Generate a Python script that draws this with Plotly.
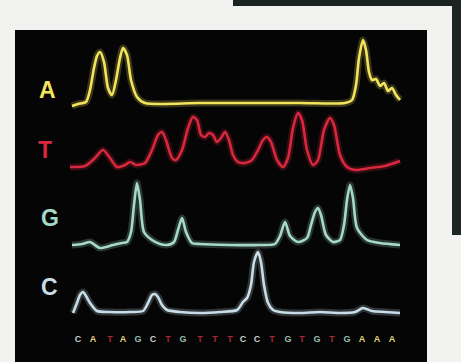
import plotly.graph_objects as go

# ---- data (scan position, signal height) ----
A_SCAN = [72, 78, 86, 90, 94, 97, 100, 104, 108, 112, 116, 120, 123, 127, 131, 137, 145, 200, 300, 345,
          352, 356, 359, 363, 366, 369, 372, 376, 380, 384, 388, 392, 396, 400]
A_SIGNAL = [-2, 0, 2, 14, 36, 48, 52, 42, 16, 9, 24, 46, 56, 49, 24, 7, 1, 1, 1, 1,
            4, 19, 46, 64, 54, 32, 24, 25, 18, 21, 13, 16, 9, 4]

T_SCAN = [70, 85, 95, 103, 110, 117, 125, 130, 136, 145, 152, 158, 162, 166, 172, 176, 182, 188, 193, 197,
          201, 205, 209, 213, 217, 221, 225, 229, 233, 238, 245, 252, 258, 263, 267, 271, 277, 283, 288, 293,
          298, 302, 307, 313, 318, 324, 330, 334, 340, 347, 355, 370, 385, 400]
T_SIGNAL = [-1, 0, 8, 16, 8, -1, 1, 4, 1, 3, 16, 31, 34, 26, 8, 6, 16, 38, 49, 46,
            31, 29, 33, 31, 24, 28, 34, 26, 11, 4, 3, 6, 16, 26, 29, 24, 6, -1, 8, 38,
            53, 46, 16, 1, 6, 36, 48, 41, 11, -1, -4, -2, 0, 5]

G_SCAN = [72, 82, 90, 100, 113, 122, 127, 131, 134, 137, 140, 144, 152, 160, 167, 174, 178, 182, 186, 192,
          200, 230, 260, 275, 280, 285, 290, 298, 307, 311, 315, 318, 321, 326, 333, 340, 344, 347, 350, 353,
          357, 367, 380, 400]
G_SIGNAL = [-1, 0, 2, -4, -1, 1, 2, 12, 39, 61, 44, 12, 4, 0, -1, 2, 14, 26, 12, 1,
            0, -1, -1, 0, 8, 22, 8, 2, 6, 19, 32, 36, 29, 9, 2, 4, 19, 44, 59, 46,
            16, 4, 1, -1]

C_SCAN = [73, 77, 80, 83, 86, 90, 97, 110, 130, 143, 148, 152, 155, 158, 162, 167, 180, 200, 220, 237,
          243, 247, 251, 254, 258, 261, 264, 268, 273, 280, 300, 320, 340, 355, 363, 372, 385, 400]
C_SIGNAL = [-1, 9, 17, 20, 16, 9, 1, 0, 0, 1, 9, 17, 18, 15, 7, 2, 0, -1, 0, 2,
            10, 14, 27, 50, 60, 50, 27, 9, 2, 0, -1, 0, -1, 0, 4, 1, 0, -1]

CHANNELS = ["A", "T", "G", "C"]

# base calls along the bottom
BASE_CALLS = list("CATAGCTGTTTCCTGTGTGAAA")
BASE_CALL_SCAN = [78, 93, 110, 123, 138, 153, 168, 183, 200, 215, 230, 243, 257, 272, 288, 302, 317, 332,
                  347, 362, 377, 392]

# ---- styling / layout ----
W, H = 461, 362
LANE_OFFSET = {"A": 258, "T": 196, "G": 118, "C": 50}
LANE_COLOR = {"A": "#f3e45c", "T": "#d9283e", "G": "#a6dac6", "C": "#c9dde8"}
LABEL_POS = {"A": (47, 272), "T": (45, 212), "G": (50, 144), "C": (49, 75)}
CALL_COLOR = {"A": "#e2d37c", "T": "#a8283a", "G": "#9cbeb0", "C": "#c8cdca"}
CALL_Y = 22

data = {"A": (A_SCAN, A_SIGNAL), "T": (T_SCAN, T_SIGNAL), "G": (G_SCAN, G_SIGNAL), "C": (C_SCAN, C_SIGNAL)}

fig = go.Figure()

for ch in CHANNELS:
    xs, sig = data[ch]
    ys = [LANE_OFFSET[ch] + v for v in sig]
    fig.add_trace(go.Scatter(x=xs, y=ys, mode="lines", line=dict(color=LANE_COLOR[ch], width=7,
                                                                  shape="spline", smoothing=0.7),
                             opacity=0.22, hoverinfo="skip", showlegend=False))
    fig.add_trace(go.Scatter(x=xs, y=ys, mode="lines", line=dict(color=LANE_COLOR[ch], width=2.6,
                                                                  shape="spline", smoothing=0.7),
                             name=ch, showlegend=False))

fig.add_trace(go.Scatter(
    x=BASE_CALL_SCAN, y=[CALL_Y] * len(BASE_CALLS), mode="text",
    text=[f"<b>{b}</b>" for b in BASE_CALLS],
    textfont=dict(family="Liberation Sans", size=9, color=[CALL_COLOR[b] for b in BASE_CALLS]),
    hoverinfo="skip", showlegend=False))

for ch in CHANNELS:
    lx, ly = LABEL_POS[ch]
    fig.add_annotation(x=lx, y=ly, text=f"<b>{ch}</b>", showarrow=False,
                       font=dict(family="Liberation Sans", size=23, color=LANE_COLOR[ch]))

shapes = [
    dict(type="rect", x0=15, x1=427, y0=-5, y1=332, fillcolor="#050506", line=dict(width=0), layer="below"),
    dict(type="rect", x0=233, x1=W + 5, y0=356, y1=H + 5, fillcolor="#1b2321", line=dict(width=0),
         layer="below"),
    dict(type="rect", x0=452, x1=W + 5, y0=127, y1=H + 5, fillcolor="#1d2523", line=dict(width=0),
         layer="below"),
]
fig.update_layout(
    width=W, height=H, margin=dict(l=0, r=0, t=0, b=0),
    paper_bgcolor="#f2f2f0", plot_bgcolor="rgba(0,0,0,0)",
    xaxis=dict(range=[0, W], visible=False, fixedrange=True),
    yaxis=dict(range=[0, H], visible=False, fixedrange=True),
    shapes=shapes,
)

fig.write_html("out.html", config={"displayModeBar": False},
               post_script="document.body.style.margin='0';document.body.style.overflow='hidden';")
